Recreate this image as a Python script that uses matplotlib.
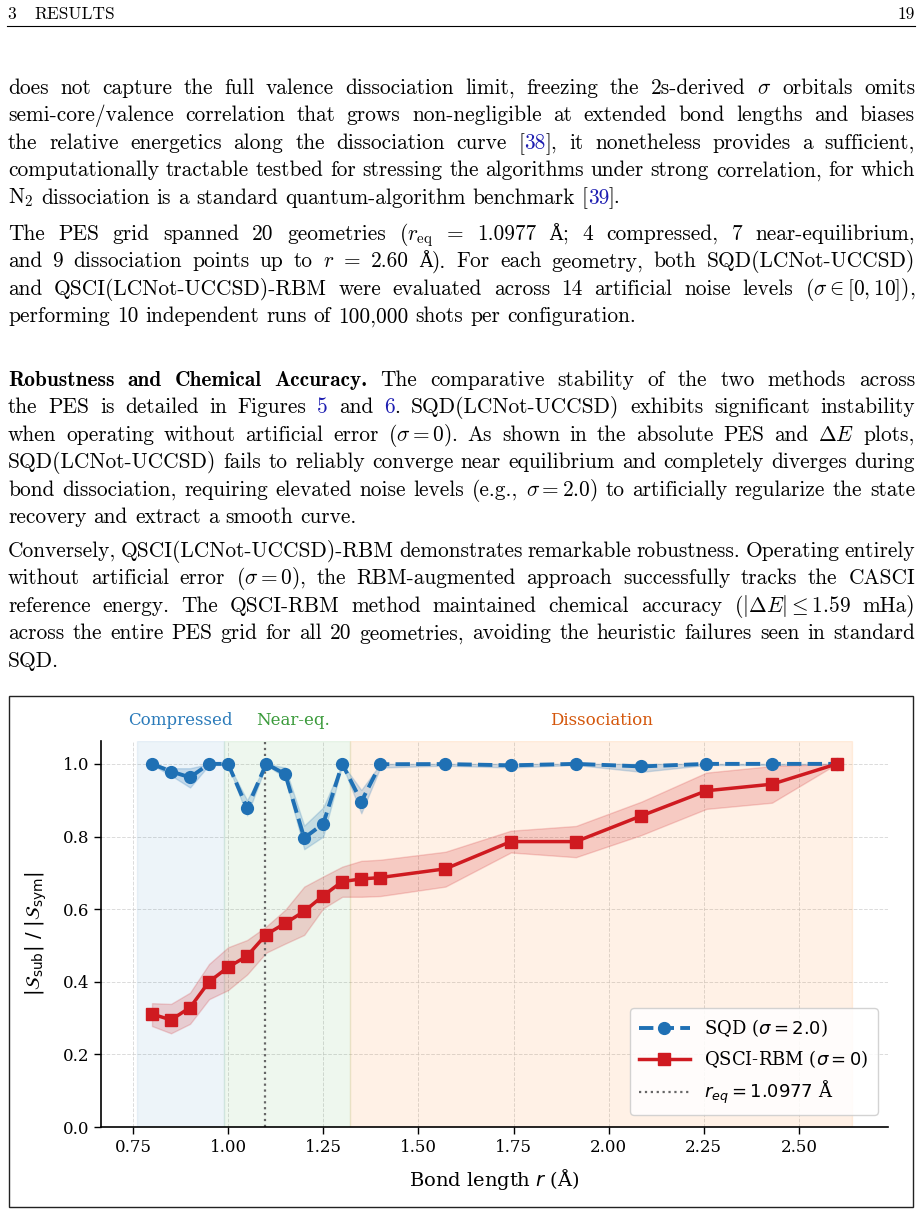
import matplotlib
matplotlib.use("Agg")
import matplotlib.pyplot as plt
from matplotlib.transforms import IdentityTransform, blended_transform_factory
from matplotlib.patches import Rectangle
from matplotlib.lines import Line2D

# ---------------- data ----------------
r = [0.80, 0.85, 0.90, 0.95, 1.00, 1.05, 1.10, 1.15, 1.20, 1.25, 1.30,
     1.35, 1.40, 1.571, 1.743, 1.914, 2.086, 2.257, 2.429, 2.60]
sqd_mean = [1.0, 0.979, 0.963, 1.0, 1.0, 0.878, 1.0, 0.972, 0.796, 0.835, 1.0,
            0.896, 0.999, 0.9995, 0.996, 1.0, 0.993, 1.0, 1.0, 1.0]
sqd_lo = [0.997, 0.968, 0.935, 0.997, 0.997, 0.858, 0.997, 0.962, 0.765, 0.80, 0.997,
          0.864, 0.99, 0.995, 0.99, 0.997, 0.978, 0.997, 0.997, 1.0]
sqd_hi = [1.0, 0.988, 0.988, 1.0, 1.0, 0.90, 1.0, 0.99, 0.83, 0.88, 1.0,
          0.928, 1.0, 1.0, 1.0, 1.0, 1.0, 1.0, 1.0, 1.0]
rbm_mean = [0.311, 0.295, 0.329, 0.400, 0.440, 0.471, 0.530, 0.561, 0.594, 0.637, 0.676,
            0.683, 0.687, 0.711, 0.786, 0.786, 0.857, 0.926, 0.944, 1.0]
rbm_lo = [0.278, 0.258, 0.284, 0.352, 0.377, 0.42, 0.48, 0.505, 0.529, 0.602, 0.634,
          0.634, 0.636, 0.662, 0.756, 0.743, 0.804, 0.876, 0.893, 1.0]
rbm_hi = [0.341, 0.339, 0.370, 0.449, 0.495, 0.515, 0.552, 0.598, 0.662, 0.69, 0.717,
          0.733, 0.736, 0.758, 0.816, 0.829, 0.896, 0.976, 0.994, 1.0]
r_eq = 1.0977
regions = [("Compressed", 0.76, 0.99, "#1f77b4", "#2b7bba"),
           ("Near-eq.", 0.99, 1.32, "#2ca02c", "#3a9a3a"),
           ("Dissociation", 1.32, 2.64, "#ff7f0e", "#d4560b")]
xticks = [0.75, 1.00, 1.25, 1.50, 1.75, 2.00, 2.25, 2.50]
yticks = [0.0, 0.2, 0.4, 0.6, 0.8, 1.0]
labels = [r"SQD ($\sigma = 2.0$)", r"QSCI-RBM ($\sigma = 0$)", r"$r_{eq} = 1.0977$ Å"]

# ---------------- page text ----------------
header_left = ["3", "RESULTS"]
header_right = "19"
paragraphs = [
    (94, [
        r"does not capture the full valence dissociation limit, freezing the 2s-derived $\sigma$ orbitals omits",
        r"semi-core/valence correlation that grows non-negligible at extended bond lengths and biases",
        r"the relative energetics along the dissociation curve [@38@], it nonetheless provides a sufficient,",
        r"computationally tractable testbed for stressing the algorithms under strong correlation, for which",
        r"N$_2$ dissociation is a standard quantum-algorithm benchmark [@39@].",
    ]),
    (240, [
        r"The PES grid spanned 20 geometries ($r_{\mathrm{eq}}$ = 1.0977 ~Å~; 4 compressed, 7 near-equilibrium,",
        r"and 9 dissociation points up to $r$ = 2.60 ~Å~). For each geometry, both SQD(LCNot-UCCSD)",
        r"and QSCI(LCNot-UCCSD)-RBM were evaluated across 14 artificial noise levels ($\sigma \in [0, 10]$),",
        r"performing 10 independent runs of 100,000 shots per configuration.",
    ]),
    (386, [
        r"#Robustness and Chemical Accuracy.# The comparative stability of the two methods across",
        r"the PES is detailed in Figures @5@ and @6@. SQD(LCNot-UCCSD) exhibits significant instability",
        r"when operating without artificial error ($\sigma = 0$). As shown in the absolute PES and $\Delta E$ plots,",
        r"SQD(LCNot-UCCSD) fails to reliably converge near equilibrium and completely diverges during",
        r"bond dissociation, requiring elevated noise levels (e.g., $\sigma = 2.0$) to artificially regularize the state",
        r"recovery and extract a smooth curve.",
    ]),
    (557, [
        r"Conversely, QSCI(LCNot-UCCSD)-RBM demonstrates remarkable robustness. Operating entirely",
        r"without artificial error ($\sigma = 0$), the RBM-augmented approach successfully tracks the CASCI",
        r"reference energy. The QSCI-RBM method maintained chemical accuracy ($|\Delta E| \leq 1.59$ mHa)",
        r"across the entire PES grid for all 20 geometries, avoiding the heuristic failures seen in standard",
        r"SQD.",
    ]),
]

W, H = 923, 1232
LEAD = 27.4
BODY = 15.4
RM = ["cmr10", "DejaVu Serif"]
BF = ["cmb10", "DejaVu Serif"]
LINK = "#1c1cb0"

fig = plt.figure(figsize=(W / 100, H / 100), dpi=100)
renderer = fig.canvas.get_renderer()
ID = IdentityTransform()


def tokenize(s):
    toks, cur, inmath = [], "", False
    for ch in s:
        if ch == "$":
            inmath = not inmath
        if ch == " " and not inmath:
            if cur:
                toks.append(cur)
            cur = ""
        else:
            cur += ch
    if cur:
        toks.append(cur)
    return toks


def ptext(x, y, s, **kw):
    kw.setdefault("fontsize", BODY)
    kw.setdefault("family", RM)
    kw.setdefault("math_fontfamily", "cm")
    kw.setdefault("va", "baseline")
    return fig.text(x, H - y, s, transform=ID, **kw)


def width_of(t):
    return t.get_window_extent(renderer).width


_a = ptext(0, -100, "aa")
_b = ptext(0, -100, "a a")
SPACE = width_of(_b) - width_of(_a)
_a.remove(); _b.remove()


def draw_line(s, y, justify, x0=8.0, x1=915.0):
    bold = False
    items = []
    for tok in tokenize(s):
        segs, cur, blue, small = [], "", False, False
        for ch in tok:
            if ch in "@#~":
                if cur:
                    segs.append((cur, blue, bold, small))
                cur = ""
                if ch == "@":
                    blue = not blue
                elif ch == "#":
                    bold = not bold
                else:
                    small = not small
            else:
                cur += ch
        if cur:
            segs.append((cur, blue, bold, small))
        arts = []
        for seg, bl, bo, sm in segs:
            t = ptext(0, y, seg, color=LINK if bl else "black",
                      family=BF if bo else RM,
                      fontsize=BODY * 0.86 if sm else BODY)
            arts.append((t, width_of(t)))
        items.append(arts)
    widths = [sum(w for _, w in a) for a in items]
    n = len(items)
    gap = (x1 - x0 - sum(widths)) / (n - 1) if (justify and n > 1) else SPACE
    x = x0
    for arts in items:
        for t, w in arts:
            t.set_position((x, H - y))
            x += w
        x += gap


# header
ptext(7, 19, header_left[0], fontsize=12.5)
ptext(34, 19, header_left[1], fontsize=12.5)
ptext(915, 19, header_right, fontsize=12.5, ha="right")
fig.add_artist(Line2D([7, 915], [H - 25.5, H - 25.5], transform=ID, color="black", lw=0.8))

for y0, lines in paragraphs:
    for i, line in enumerate(lines):
        draw_line(line, y0 + i * LEAD, justify=(i < len(lines) - 1))

# figure frame
fig.add_artist(Rectangle((9, H - 1207), 904, 511, transform=ID, fill=False,
                         edgecolor="#222222", lw=1.0))

# ---------------- chart ----------------
ax = fig.add_axes([101 / W, 1 - 1127 / H, 787 / W, 386 / H])
ax.set_facecolor("none")
for name, a, b, col, tcol in regions:
    ax.axvspan(a, b, color=col, alpha=0.08 if col != "#ff7f0e" else 0.1, zorder=0.8)
trans = blended_transform_factory(ax.transData, ax.transAxes)
for name, a, b, col, tcol in regions:
    ax.text((a + b) / 2 + (0.015 if name == "Near-eq." else 0), 1.052, name,
            transform=trans, ha="center", va="center",
            color=tcol, fontsize=12, family="DejaVu Serif")

BLUE = "#1f70b4"
RED = "#cf1a20"
ax.fill_between(r, sqd_lo, sqd_hi, color=BLUE, alpha=0.2, zorder=2)
ax.plot(r, sqd_mean, ls="--", marker="o", color=BLUE, lw=2.8, ms=8.5,
        label=labels[0], zorder=3)
ax.fill_between(r, rbm_lo, rbm_hi, color=RED, alpha=0.18, zorder=2)
ax.plot(r, rbm_mean, ls="-", marker="s", color=RED, lw=2.5, ms=8,
        label=labels[1], zorder=4)
ax.axvline(r_eq, color="#666666", ls=":", lw=1.6, label=labels[2], zorder=2.5)

ax.set_xlim(0.666, 2.734)
ax.set_ylim(0.0, 1.063)
ax.set_xticks(xticks)
ax.set_yticks(yticks)
ax.set_xticklabels([f"{v:.2f}" for v in xticks], family="DejaVu Serif", fontsize=12)
ax.set_yticklabels([f"{v:.1f}" for v in yticks], family="DejaVu Serif", fontsize=12)
ax.grid(True, ls="--", lw=0.7, color="#cccccc", alpha=0.7, zorder=0.5)
ax.set_axisbelow(True)
for sp in ["top", "right"]:
    ax.spines[sp].set_visible(False)
for sp in ["left", "bottom"]:
    ax.spines[sp].set_linewidth(1.2)
ax.tick_params(direction="out", length=5, width=1.0)
ax.set_xlabel(r"Bond length $r$ (Å)", family="DejaVu Serif", fontsize=14,
              math_fontfamily="dejavusans", labelpad=8)
ax.set_ylabel(r"$|\mathcal{S}_{\mathrm{sub}}|\ /\ |\mathcal{S}_{\mathrm{sym}}|$",
              fontsize=14, math_fontfamily="dejavusans", labelpad=10)
leg = ax.legend(loc="lower right", prop={"family": "DejaVu Serif", "size": 13},
                handlelength=2.8, framealpha=0.85, borderpad=0.5,
                borderaxespad=0.0, bbox_to_anchor=(0.987, 0.031))
for t in leg.get_texts():
    t.set_math_fontfamily("dejavusans")

fig.savefig("out.png", dpi=100)
